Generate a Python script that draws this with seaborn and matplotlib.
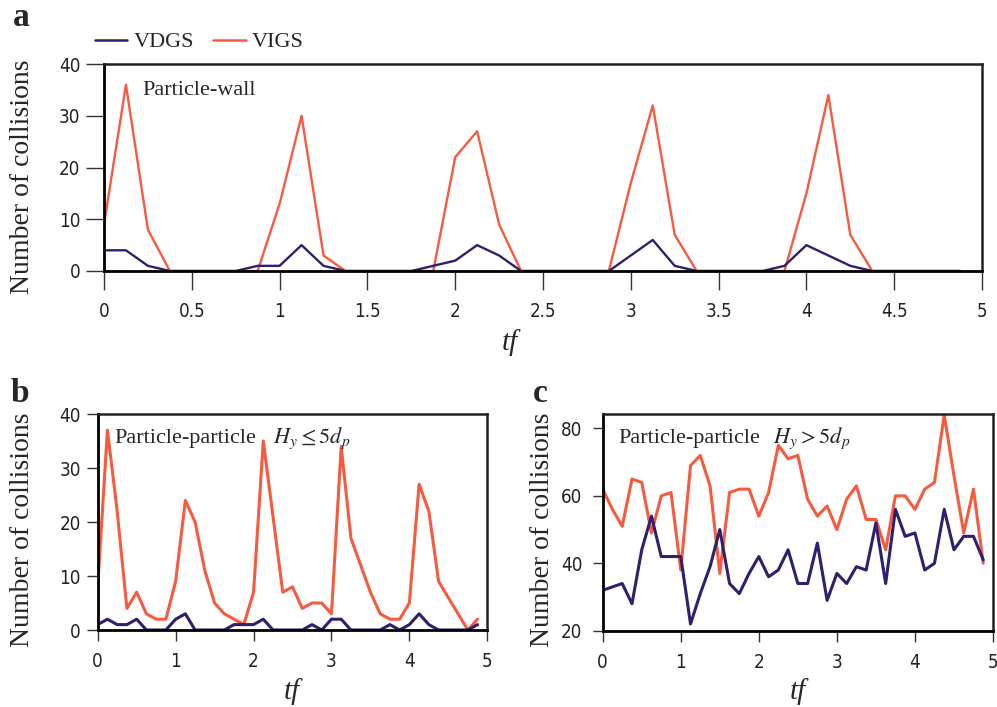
import numpy as np
import pandas as pd
import matplotlib
matplotlib.use("Agg")
import matplotlib.pyplot as plt
from matplotlib.lines import Line2D
from matplotlib import font_manager
import seaborn as sns

# ---- data -------------------------------------------------------------
tf = [0.0, 0.125, 0.25, 0.375, 0.5, 0.625, 0.75, 0.875,
      1.0, 1.125, 1.25, 1.375, 1.5, 1.625, 1.75, 1.875,
      2.0, 2.125, 2.25, 2.375, 2.5, 2.625, 2.75, 2.875,
      3.0, 3.125, 3.25, 3.375, 3.5, 3.625, 3.75, 3.875,
      4.0, 4.125, 4.25, 4.375, 4.5, 4.625, 4.75, 4.875]

wall_vdgs = [4, 4, 1, 0, 0, 0, 0, 1, 1, 5, 1, 0, 0, 0, 0, 1,
             2, 5, 3, 0, 0, 0, 0, 0, 3, 6, 1, 0, 0, 0, 0, 1,
             5, 3, 1, 0, 0, 0, 0, 0]
wall_vigs = [9, 36, 8, 0, 0, 0, 0, 0, 13, 30, 3, 0, 0, 0, 0, 0,
             22, 27, 9, 0, 0, 0, 0, 0, 17, 32, 7, 0, 0, 0, 0, 0,
             15, 34, 7, 0, 0, 0, 0, 0]

near_vdgs = [1, 2, 1, 1, 2, 0, 0, 0, 2, 3, 0, 0, 0, 0, 1, 1,
             1, 2, 0, 0, 0, 0, 1, 0, 2, 2, 0, 0, 0, 0, 1, 0,
             1, 3, 1, 0, 0, 0, 0, 1]
near_vigs = [8, 37, 22, 4, 7, 3, 2, 2, 9, 24, 20, 11, 5, 3, 2, 1,
             7, 35, 21, 7, 8, 4, 5, 5, 3, 34, 17, 12, 7, 3, 2, 2,
             5, 27, 22, 9, 6, 3, 0, 2]

far_vdgs = [32, 33, 34, 28, 44, 54, 42, 42, 42, 22, 31, 39, 50, 34, 31, 37,
            42, 36, 38, 44, 34, 34, 46, 29, 37, 34, 39, 38, 52, 34, 56, 48,
            49, 38, 40, 56, 44, 48, 48, 41]
far_vigs = [62, 56, 51, 65, 64, 49, 60, 61, 38, 69, 72, 63, 37, 61, 62, 62,
            54, 61, 75, 71, 72, 59, 54, 57, 50, 59, 63, 53, 53, 44, 60, 60,
            56, 62, 64, 84, 66, 49, 62, 40]

schemes = ["VDGS", "VIGS"]
wall_xticks = [0, 0.5, 1, 1.5, 2, 2.5, 3, 3.5, 4, 4.5, 5]
wall_xticklabels = ["0", "0.5", "1", "1.5", "2", "2.5", "3", "3.5", "4", "4.5", "5"]
pp_xticks = [0, 1, 2, 3, 4, 5]
near_yticks = [0, 10, 20, 30, 40]
far_yticks = [20, 40, 60, 80]


def long_form(vdgs, vigs):
    return pd.DataFrame({
        "tf": tf + tf,
        "count": vigs + vdgs,
        "scheme": ["VIGS"] * len(tf) + ["VDGS"] * len(tf),
    })


# ---- style ------------------------------------------------------------
sns.set_theme(style="ticks")
SERIF = ["Liberation Serif", "DejaVu Serif"]
plt.rcParams["font.family"] = SERIF
plt.rcParams["mathtext.fontset"] = "stix"


def narrow_tick_font():
    """Pick a narrow sans face for tick numbers, if one is installed."""
    entries = font_manager.fontManager.ttflist
    for want in ("Liberation Sans Narrow", "Arial Narrow"):
        for f in entries:
            if f.name == want and f.style == "normal":
                return font_manager.FontProperties(fname=f.fname), 13.5
    for f in entries:
        if ("Condensed" in f.name or "Narrow" in f.name or
                str(f.stretch) in ("condensed", "semi-condensed")) and f.style == "normal" \
                and str(f.weight) in ("400", "normal", "regular") and "Sans" in f.name + f.fname:
            return font_manager.FontProperties(fname=f.fname), 13.5
    return font_manager.FontProperties(family="Liberation Sans"), 12.5


TICK_FP, TICK_SIZE = narrow_tick_font()

BLUE = "#2F1F6E"
RED = "#F75A3E"
palette = {"VDGS": BLUE, "VIGS": RED}

W, H = 997, 707
fig = plt.figure(figsize=(W / 100, H / 100), dpi=100)


def px_axes(left, top, right, bottom):
    return fig.add_axes([left / W, 1 - bottom / H, (right - left) / W, (bottom - top) / H])


def style_axes(ax, xlen, ylen):
    for side in ["left", "bottom"]:
        ax.spines[side].set_linewidth(2.0)
        ax.spines[side].set_color("black")
    for side in ["top", "right"]:
        ax.spines[side].set_visible(True)
        ax.spines[side].set_linewidth(1.8)
        ax.spines[side].set_color("#222222")
    ax.tick_params(axis="x", direction="out", length=xlen, width=1.0, color="#333333",
                   pad=7, labelcolor="#222222")
    ax.tick_params(axis="y", direction="out", length=ylen, width=1.0, color="#333333",
                   pad=4, labelcolor="#222222")
    for lab in ax.get_xticklabels() + ax.get_yticklabels():
        lab.set_fontproperties(TICK_FP)
        lab.set_fontsize(TICK_SIZE)
    ax.set_xlabel("")
    ax.set_ylabel("")


def draw(ax, vdgs, vigs, lw):
    sns.lineplot(data=long_form(vdgs, vigs), x="tf", y="count", hue="scheme",
                 hue_order=["VIGS", "VDGS"], palette=palette, linewidth=lw,
                 legend=False, ax=ax, estimator=None)


# ---- panel a: particle-wall ------------------------------------------
ax_a = px_axes(104, 64, 982, 271)
draw(ax_a, wall_vdgs, wall_vigs, 1.7)
ax_a.set_xlim(0, 5)
ax_a.set_ylim(0, 40)
ax_a.set_xticks(wall_xticks)
ax_a.set_xticklabels(wall_xticklabels)
ax_a.set_yticks(near_yticks)
style_axes(ax_a, 13.5, 13)
ax_a.tick_params(axis="x", pad=9)
ax_a.text(0.044, 0.85, "Particle-wall", transform=ax_a.transAxes,
          fontsize=16, va="baseline", ha="left")

# ---- panel b: particle-particle, near wall ---------------------------
ax_b = px_axes(97.7, 414, 487.3, 630)
draw(ax_b, near_vdgs, near_vigs, 2.2)
ax_b.set_xlim(0, 5)
ax_b.set_ylim(0, 40)
ax_b.set_xticks(pp_xticks)
ax_b.set_yticks(near_yticks)
style_axes(ax_b, 8, 8)
ax_b.tick_params(axis="x", pad=8)
ax_b.text(0.044, 0.866, "Particle-particle", transform=ax_b.transAxes,
          fontsize=16, va="baseline", ha="left")
ax_b.text(0.45, 0.866, r"$H_y \leq 5d_p$", transform=ax_b.transAxes,
          fontsize=16, va="baseline", ha="left")

# ---- panel c: particle-particle, away from wall ----------------------
ax_c = px_axes(602.7, 414, 993, 630.7)
draw(ax_c, far_vdgs, far_vigs, 2.2)
ax_c.set_xlim(0, 5)
ax_c.set_ylim(20, 84.3)
ax_c.set_xticks(pp_xticks)
ax_c.set_yticks(far_yticks)
style_axes(ax_c, 8, 7.5)
ax_c.tick_params(axis="x", pad=8)
ax_c.tick_params(axis="y", pad=7)
ax_c.text(0.039, 0.865, "Particle-particle", transform=ax_c.transAxes,
          fontsize=16, va="baseline", ha="left")
ax_c.text(0.436, 0.865, r"$H_y > 5d_p$", transform=ax_c.transAxes,
          fontsize=16, va="baseline", ha="left")


# ---- labels -----------------------------------------------------------
def ftext(x, y, s, **kw):
    fig.text(x / W, 1 - y / H, s, **kw)


ftext(23, 177, "Number of collisions", rotation=90, fontsize=20, ha="center", va="center")
ftext(23, 530, "Number of collisions", rotation=90, fontsize=20, ha="center", va="center")
ftext(542, 530, "Number of collisions", rotation=90, fontsize=20, ha="center", va="center")

ftext(510, 343, "tf", fontsize=21, style="italic", ha="center", va="center")
ftext(292, 692, "tf", fontsize=21, style="italic", ha="center", va="center")
ftext(798, 692, "tf", fontsize=21, style="italic", ha="center", va="center")

ftext(13, 18, "a", fontsize=24, weight="bold", ha="left", va="center")
ftext(11, 393, "b", fontsize=24, weight="bold", ha="left", va="center")
ftext(533, 393, "c", fontsize=24, weight="bold", ha="left", va="center")

handles = [Line2D([], [], color=palette[s], lw=1.8) for s in schemes]
fig.legend(handles, schemes, loc="center left", bbox_to_anchor=(95 / W, 1 - 42 / H),
           ncol=2, frameon=False, fontsize=16, handlelength=1.45, handletextpad=0.3,
           columnspacing=0.85, borderpad=0, borderaxespad=0)

fig.savefig("out.png", dpi=100)
